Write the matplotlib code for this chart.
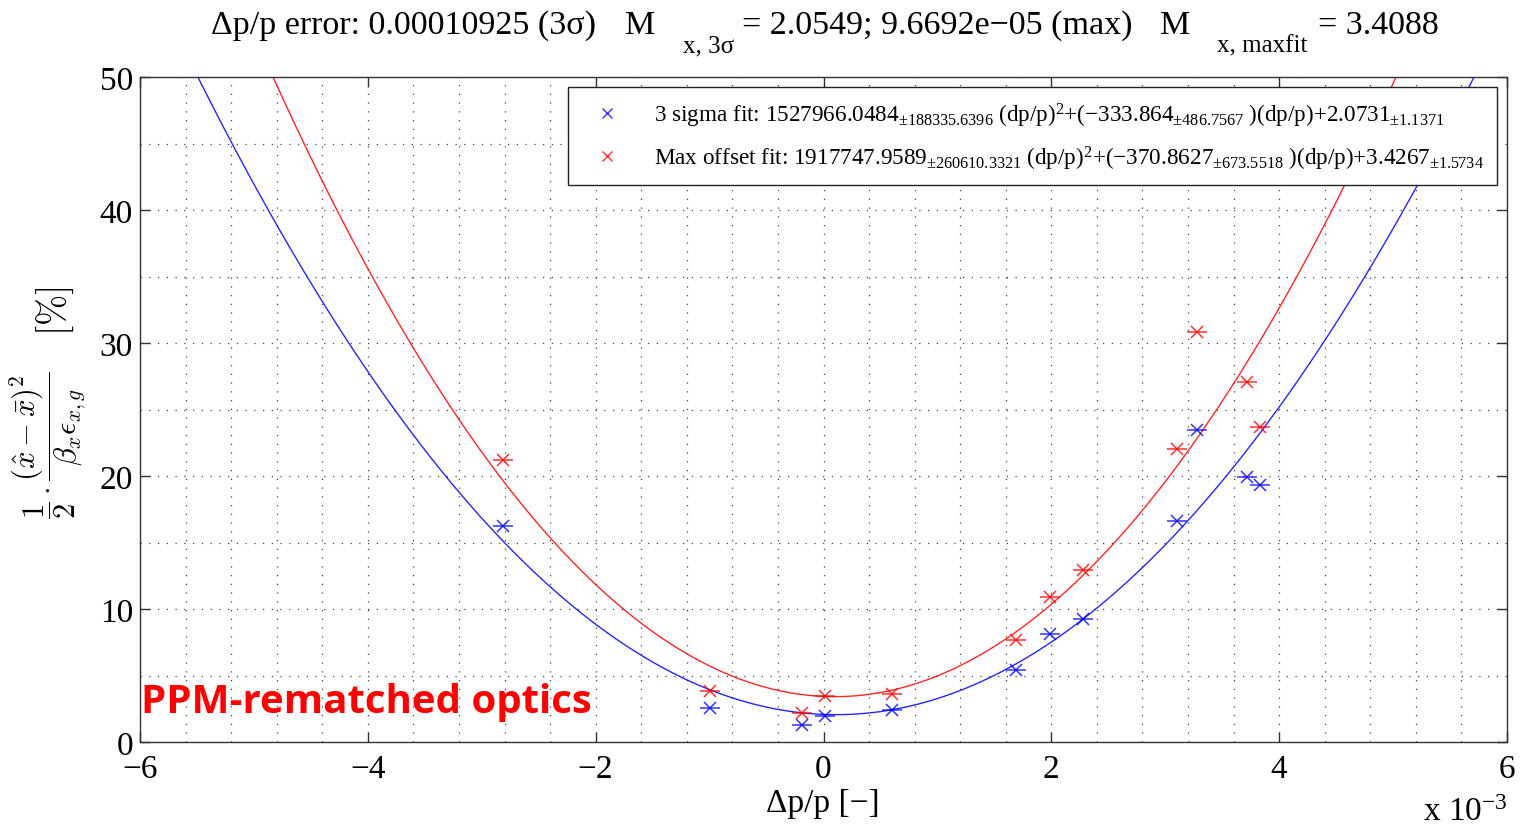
import numpy as np
import matplotlib
matplotlib.use('Agg')
import matplotlib.pyplot as plt
from matplotlib.lines import Line2D
from matplotlib.ticker import MultipleLocator

plt.rcParams['font.family'] = ['Liberation Serif', 'DejaVu Serif']
plt.rcParams['mathtext.fontset'] = 'custom'
plt.rcParams['mathtext.rm'] = 'Liberation Serif'
plt.rcParams['mathtext.it'] = 'Liberation Serif:italic'
plt.rcParams['mathtext.bf'] = 'Liberation Serif:bold'
plt.rcParams['axes.unicode_minus'] = True

# ---------------- data ----------------
dpp = [-2.814, -0.997, -0.189, 0.013, 0.601, 1.690, 1.989, 2.279, 3.10, 3.28, 3.72, 3.83]   # x 1e-3
y_3sigma = [16.24, 2.56, 1.28, 1.95, 2.41, 5.41, 8.12, 9.25, 16.6, 23.46, 19.9, 19.3]
y_maxoff = [21.2, 3.83, 2.18, 3.46, 3.61, 7.67, 10.9, 12.93, 22.03, 30.83, 27.07, 23.68]

fit_3sigma = [1527966.0484, -333.864, 2.0731]
fit_3sigma_err = [188335.6396, 486.7567, 1.1371]
fit_maxoff = [1917747.9589, -370.8627, 3.4267]
fit_maxoff_err = [260610.3321, 673.5518, 1.5734]

x_ticks = [-6, -4, -2, 0, 2, 4, 6]
y_ticks = [0, 10, 20, 30, 40, 50]

title_parts = ["\u0394p/p error: 0.00010925 (3\u03c3)", "M", "x, 3\u03c3",
               "= 2.0549; 9.6692e\u221205 (max)", "M", "x, maxfit", "= 3.4088"]

# ---------------- figure ----------------
W, H = 1520, 829
fig = plt.figure(figsize=(W / 100, H / 100), dpi=100)
ax = fig.add_axes([140 / W, 1 - 743 / H, (1507 - 140) / W, (743 - 78) / H])

xf = np.linspace(-6, 6, 600)
ax.plot(xf, np.polyval(fit_3sigma, xf * 1e-3), color=(0, 0, 1), lw=1.0, alpha=0.85)
ax.plot(xf, np.polyval(fit_maxoff, xf * 1e-3), color=(1, 0, 0), lw=1.0, alpha=0.85)

for yv, c in [(y_3sigma, (0, 0, 1)), (y_maxoff, (1, 0, 0))]:
    ax.plot(dpp, yv, linestyle='none', marker='x', color=c, markersize=9, mew=1.1, alpha=0.8)
    ax.plot(dpp, yv, linestyle='none', marker='_', color=c, markersize=14, mew=1.1, alpha=0.8)

ax.set_xlim(-6, 6)
ax.set_ylim(0, 50)
ax.set_xticks(x_ticks)
ax.set_yticks(y_ticks)
ax.set_xticklabels(['\u2212%d' % -t if t < 0 else '%d' % t for t in x_ticks])
ax.xaxis.set_minor_locator(MultipleLocator(0.4))
ax.yaxis.set_minor_locator(MultipleLocator(5))
ax.tick_params(which='major', direction='in', length=7, width=1.0, color='#333333',
               top=True, right=True, labelsize=24, pad=8)
ax.tick_params(axis='y', which='major', pad=5)
ax.tick_params(which='minor', length=0, top=True, right=True)
ax.grid(True, which='both', color='#444444', linestyle=(0, (1, 6)), linewidth=0.9)
for s in ax.spines.values():
    s.set_color('#333333')
    s.set_linewidth(1.0)

# legend
def lab(name, f, e):
    return (name + "%.4f$_{\\pm%.4f}$ (dp/p)$^{2}$+(\u2212%s$_{\\pm%.4f}$ )(dp/p)+%.4f$_{\\pm%.4f}$"
            % (f[0], e[0], ('%.4f' % -f[1]).rstrip('0'), e[1], f[2], e[2]))

handles = [Line2D([], [], linestyle='none', marker='x', color=(0, 0, 1), markersize=7, mew=1.0, alpha=0.8),
           Line2D([], [], linestyle='none', marker='x', color=(1, 0, 0), markersize=7, mew=1.0, alpha=0.8)]
labels = [lab("3 sigma fit: ", fit_3sigma, fit_3sigma_err),
          lab("Max offset fit: ", fit_maxoff, fit_maxoff_err)]
leg = ax.legend(handles, labels, loc='upper right',
                bbox_to_anchor=((1497 - 140) / 1367, (743 - 88) / 665),
                borderaxespad=0, fontsize=16.7, frameon=True, fancybox=False,
                edgecolor='#222222', framealpha=1, handlelength=2.2, handletextpad=0.9,
                borderpad=0.58, labelspacing=0.65)
leg.get_frame().set_linewidth(1.0)

# title pieces
def ft(x, y, s, **kw):
    fig.text(x / W, 1 - y / H, s, va='baseline', ha='left', **kw)

ft(211, 34, title_parts[0], fontsize=24.5)
ft(625, 34, title_parts[1], fontsize=24.5)
ft(683, 52, title_parts[2], fontsize=18)
ft(742, 34, title_parts[3], fontsize=24.5)
ft(1160, 34, title_parts[4], fontsize=24.5)
ft(1217, 52, title_parts[5], fontsize=18)
ft(1318, 34, title_parts[6], fontsize=24.5)

# axis labels
fig.text(823 / W, 1 - 812 / H, "\u0394p/p [\u2212]", ha='center', va='baseline', fontsize=24)
fig.text(1508 / W, 1 - 828 / H, "x 10$^{\u22123}$", ha='right', va='bottom', fontsize=24)
fig.text(48 / W, 1 - 445 / H,
         r"$\dfrac{1}{2}\cdot\dfrac{(\hat{x}-\bar{x})^2}{\beta_x\epsilon_{x,g}}$",
         rotation=90, ha='center', va='center', fontsize=22, math_fontfamily='cm')
fig.text(55 / W, 1 - 311 / H, r"$[\%]$",
         rotation=90, ha='center', va='center', fontsize=27, math_fontfamily='cm')

# annotation
fig.text(141 / W, 1 - 713 / H, "PPM-rematched optics", color='red', fontsize=29,
         fontweight='bold', family=['Open Sans', 'DejaVu Sans'], ha='left', va='baseline')

fig.savefig('out.png', dpi=100)
